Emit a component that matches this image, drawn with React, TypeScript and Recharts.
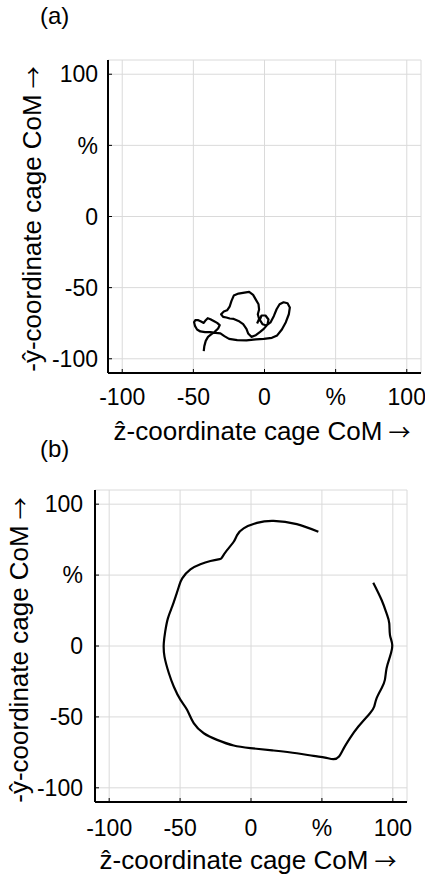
import React from 'react';
import { LineChart, Line, XAxis, YAxis, CartesianGrid } from 'recharts';

// shared axis ticks; the 50 tick carries the unit sign instead of a number
const ticks = [-100, -50, 0, 50, 100];
const tickText = (v: number) => (v === 50 ? '%' : String(v));

// (a) trajectory of the cage CoM, z and y in %
const zA = [
  -42.7, -42.3, -41.3, -39.7, -37.3, -35.0, -32.6, -31.5, -33.3, -35.7, -38.0, -39.9, -41.3, -42.7,
  -44.6, -46.5, -48.6, -49.5, -48.8, -47.4, -45.1, -41.8, -38.0, -34.3, -31.0, -28.2, -24.9, -19.2,
  -12.7, -6.1, -0.5, 5.2, 8.9, 12.2, 15.0, 17.1, 17.8, 16.2, 13.4, 10.6, 8.5, 6.6, 4.2, 1.4, -1.4,
  -3.3, -2.1, 0.7, 2.8, 2.1, -0.5, -3.3, -6.1, -9.2, -11.5, -12.7, -15.0, -18.3, -21.6, -24.4, -26.8,
  -29.1, -30.5, -28.6, -26.3, -24.4, -23.2, -21.6, -18.3, -14.1, -10.8, -8.0, -6.1, -4.2, -3.8, -4.7,
  -3.8, -5.2,
];
const yA = [
  -94.6, -91.1, -87.4, -84.6, -82.7, -81.1, -78.7, -76.4, -74.8, -73.4, -72.2, -71.5, -72.9, -74.8,
  -73.8, -72.9, -72.9, -74.3, -77.1, -79.4, -80.8, -81.3, -81.3, -81.8, -82.2, -84.1, -86.0, -86.9,
  -87.1, -86.4, -86.0, -85.3, -83.6, -79.4, -74.3, -68.7, -64.0, -61.0, -60.3, -61.7, -65.2, -69.9,
  -74.5, -76.6, -75.7, -72.7, -69.6, -69.6, -72.4, -75.9, -79.0, -81.3, -83.4, -84.6, -82.2, -79.0,
  -75.7, -73.4, -72.0, -71.7, -71.0, -70.6, -68.7, -66.8, -65.9, -63.1, -59.3, -55.6, -54.2, -53.5,
  -53.0, -55.1, -58.4, -61.7, -65.4, -68.7, -72.0, -75.2,
];

// (b) trajectory of the cage CoM, z and y in %
const zB = [
  47.5, 32.3, 15.9, 4.2, -5.2, -9.8, -12.2, -16.9, -20.4, -22.1, -28.6, -35.7, -42.7, -48.5, -50.9,
  -53.2, -55.6, -58.6, -60.5, -61.5, -61.0, -57.9, -54.4, -49.7, -45.0, -40.4, -33.3, -23.9, -12.2,
  -0.5, 15.9, 32.3, 44.0, 52.2, 58.1, 62.1, 65.1, 69.8, 75.7, 83.9, 86.9, 88.6, 92.1, 94.4, 95.6,
  98.0, 99.6, 98.0, 97.5, 95.6, 92.1, 86.2,
];
const yB = [
  80.5, 85.9, 88.2, 86.8, 82.9, 78.2, 73.5, 67.6, 62.5, 61.3, 59.9, 57.7, 54.0, 47.7, 41.8, 34.7,
  27.7, 19.5, 10.1, 1.9, -7.5, -19.2, -28.7, -38.0, -45.1, -54.4, -61.5, -66.2, -70.2, -72.0, -73.7,
  -75.6, -77.5, -78.7, -79.8, -77.9, -72.7, -65.0, -56.8, -47.4, -42.7, -36.8, -29.8, -23.9, -15.7,
  -7.5, 0.7, 7.7, 16.0, 23.0, 32.4, 44.6,
];

const zLabel = 'ẑ-coordinate cage CoM';
const yLabel = '-ŷ-coordinate cage CoM';

const FONT = '"Liberation Sans", Arial, Helvetica, sans-serif';
const ARROW_FONT = '"Noto Sans CJK JP", "DejaVu Sans", sans-serif';

const dataA = zA.map((z, i) => ({ z, y: yA[i] }));
const dataB = zB.map((z, i) => ({ z, y: yB[i] }));

function BottomTick(props: any) {
  const { x, y, payload } = props;
  return (
    <text x={x} y={y} dy="0.71em" textAnchor="middle" fontSize={23} fontFamily={FONT} fill="#000">
      {tickText(payload.value)}
    </text>
  );
}

function LeftTick(props: any) {
  const { x, y, payload } = props;
  return (
    <text x={x} y={y} dy="0.355em" textAnchor="end" fontSize={23} fontFamily={FONT} fill="#000">
      {tickText(payload.value)}
    </text>
  );
}

const textStyle: React.CSSProperties = {
  position: 'absolute',
  fontFamily: FONT,
  color: '#000',
  whiteSpace: 'nowrap',
  lineHeight: 1,
};

function Title({ text, left, top }: { text: string; left: number; top: number }) {
  return <div style={{ ...textStyle, left, top, fontSize: 24 }}>{text}</div>;
}

function Arrow() {
  return <span style={{ fontFamily: ARROW_FONT, fontSize: 22, lineHeight: 1, marginLeft: 6 }}>→</span>;
}

function XLabel({ cx, cy }: { cx: number; cy: number }) {
  return (
    <div style={{ ...textStyle, left: cx, top: cy, fontSize: 26, transform: 'translate(-50%,-50%)' }}>
      {zLabel}
      <Arrow />
    </div>
  );
}

function YLabel({ cx, cy }: { cx: number; cy: number }) {
  return (
    <div style={{ ...textStyle, left: cx, top: cy, fontSize: 26, transform: 'translate(-50%,-50%) rotate(-90deg)' }}>
      {yLabel}
      <Arrow />
    </div>
  );
}

function Panel({
  data,
  height,
  margin,
  yWidth,
  xHeight,
  xMargin,
  yMargin,
  curve,
}: {
  data: { z: number; y: number }[];
  height: number;
  margin: { top: number; right: number; bottom: number; left: number };
  yWidth: number;
  xHeight: number;
  xMargin: number;
  yMargin: number;
  curve: 'linear' | 'natural';
}) {
  return (
    <LineChart width={425} height={height} data={data} margin={margin}>
      <CartesianGrid stroke="#dadada" strokeWidth={1} />
      <XAxis
        dataKey="z"
        type="number"
        domain={[-110, 110]}
        ticks={ticks}
        interval={0}
        allowDataOverflow
        height={xHeight}
        axisLine={{ stroke: '#000', strokeWidth: 2 }}
        tickLine={{ stroke: '#000', strokeWidth: 1 }}
        tickSize={-4}
        tickMargin={xMargin}
        tick={<BottomTick />}
      />
      <YAxis
        dataKey="y"
        type="number"
        domain={[-110, 110]}
        ticks={ticks}
        interval={0}
        allowDataOverflow
        width={yWidth}
        axisLine={{ stroke: '#000', strokeWidth: 2 }}
        tickLine={{ stroke: '#000', strokeWidth: 1 }}
        tickSize={-4}
        tickMargin={yMargin}
        tick={<LeftTick />}
      />
      <Line
        type={curve}
        dataKey="y"
        stroke="#000"
        strokeWidth={2.2}
        strokeLinejoin="round"
        dot={false}
        activeDot={false}
        isAnimationActive={false}
      />
    </LineChart>
  );
}

export default function App() {
  return (
    <div style={{ position: 'absolute', left: 0, top: 0, width: 425, height: 875, background: '#fff', overflow: 'hidden' }}>
      <div style={{ position: 'absolute', left: 0, top: 0 }}>
        <Panel
          data={dataA}
          height={440}
          margin={{ top: 60, right: 4, bottom: 0, left: 0 }}
          yWidth={108}
          xHeight={67}
          xMargin={20}
          yMargin={14}
          curve="linear"
        />
      </div>
      <div style={{ position: 'absolute', left: 0, top: 440 }}>
        <Panel
          data={dataB}
          height={435}
          margin={{ top: 50, right: 18, bottom: 0, left: 0 }}
          yWidth={95}
          xHeight={73}
          xMargin={22}
          yMargin={16}
          curve="natural"
        />
      </div>
      <Title text="(a)" left={40} top={4} />
      <Title text="(b)" left={40} top={437} />
      <XLabel cx={262} cy={431} />
      <XLabel cx={248} cy={860} />
      <YLabel cx={32} cy={219} />
      <YLabel cx={19} cy={650} />
    </div>
  );
}
